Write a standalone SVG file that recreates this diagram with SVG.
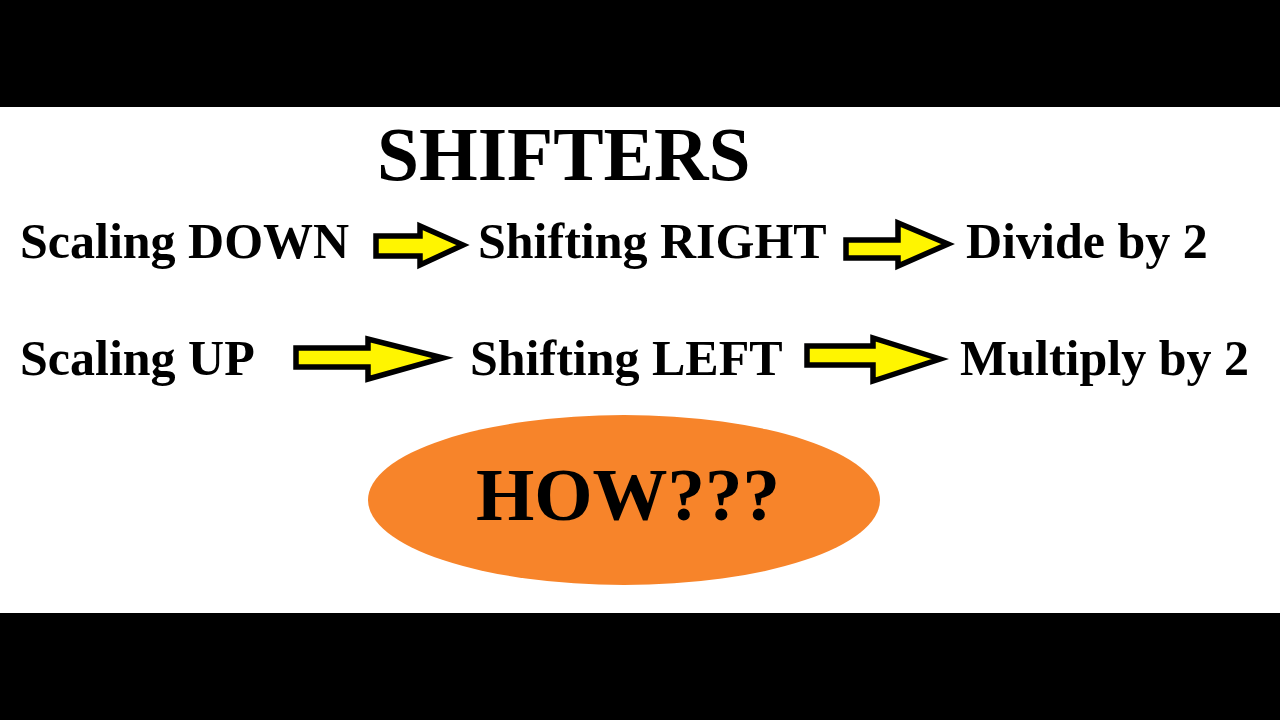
<svg xmlns="http://www.w3.org/2000/svg" width="1280" height="720" viewBox="0 0 1280 720">
<style>
.t{font-family:"Liberation Serif","Times New Roman",serif;font-weight:bold;fill:#000}
.r{font-size:50px}
.arr{fill:#FFF500;stroke:#000;stroke-width:5.5;stroke-linejoin:miter}
</style>
<rect x="0" y="0" width="1280" height="720" fill="#fff"/>
<rect x="0" y="0" width="1280" height="107" fill="#000"/>
<rect x="0" y="613" width="1280" height="107" fill="#000"/>
<g id="title"><text class="t" x="377" y="180" font-size="75.5">SHIFTERS</text></g>
<g id="scaling-down"><text class="t r" x="20" y="258">Scaling DOWN</text></g>
<g id="shifting-right"><text class="t r" x="478" y="258">Shifting RIGHT</text></g>
<g id="divide"><text class="t r" x="966" y="258">Divide by 2</text></g>
<g id="scaling-up"><text class="t r" x="20" y="375">Scaling UP</text></g>
<g id="shifting-left"><text class="t r" x="470" y="375">Shifting LEFT</text></g>
<g id="multiply"><text class="t r" x="960" y="375">Multiply by 2</text></g>
<g id="connectors">
<polygon class="arr" points="376,236 420,236 420,226 463,245 420,265 420,256 376,256"/>
<polygon class="arr" points="846,240 898,240 898,223 948,244 898,266 898,258 846,258"/>
<polygon class="arr" points="296,348 368,348 368,339 443,358 368,379 368,367 296,367"/>
<polygon class="arr" points="807,346 873,346 873,338 940,359 873,381 873,365 807,365"/>
</g>
<g id="how">
<ellipse cx="624" cy="500" rx="256" ry="85" fill="#F7842A"/>
<text class="t" x="628" y="520" font-size="75" text-anchor="middle">HOW???</text>
</g>
</svg>
